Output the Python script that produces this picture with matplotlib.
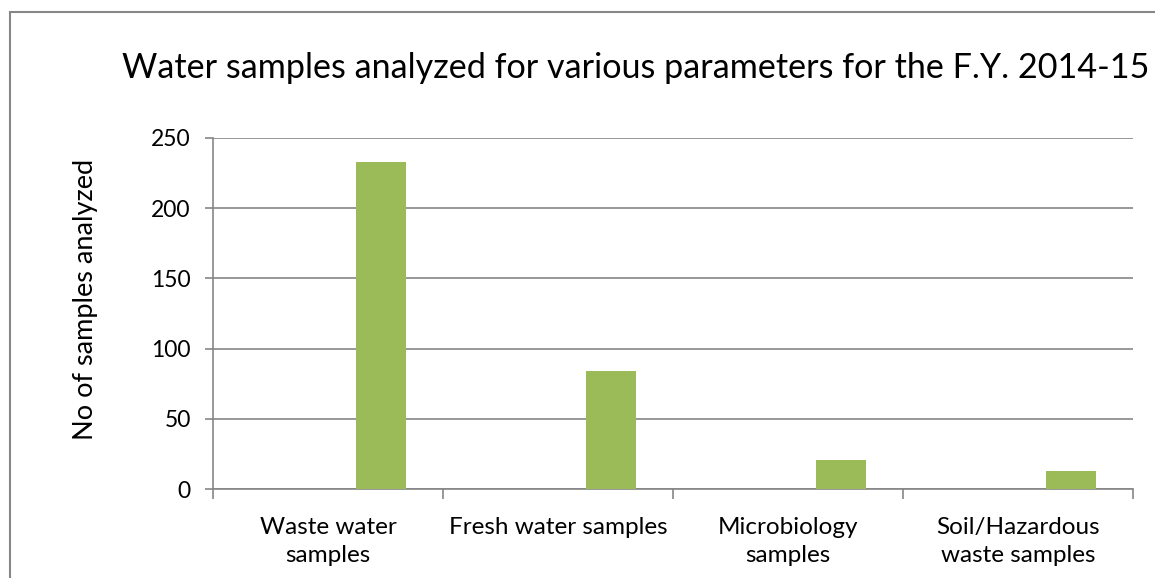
import numpy as np
import matplotlib.pyplot as plt
from matplotlib.patches import Rectangle

categories = ['Waste water\nsamples', 'Fresh water samples', 'Microbiology\nsamples',
              'Soil/Hazardous\nwaste samples']
samples = [233, 84, 21, 13]

plt.rcParams['font.family'] = ['Lato', 'DejaVu Sans']

fig = plt.figure(figsize=(11.55, 5.78), dpi=100)
ax = fig.add_axes([213/1155, 1-489/578, 920/1155, 351/578])

x = np.arange(len(categories))
ax.bar(x + 0.23, samples, width=0.217, color='#9BBB59', zorder=3)

ax.set_xlim(-0.5, 3.5)
ax.set_ylim(0, 250)
ax.set_yticks(range(0, 251, 50))
ax.yaxis.grid(True, color='#868686', lw=1.2, zorder=0)
for s in ['top', 'right']:
    ax.spines[s].set_visible(False)
for s in ['left', 'bottom']:
    ax.spines[s].set_color('#868686')
    ax.spines[s].set_linewidth(1.2)

# category labels between boundary ticks
ax.set_xticks(np.arange(-0.5, 4, 1))
ax.set_xticklabels([])
ax.set_xticks(x, minor=True)
ax.set_xticklabels(categories, minor=True, fontsize=17.5, linespacing=1.45)
ax.tick_params(axis='x', which='major', length=7, color='#868686', width=1.2)
ax.tick_params(axis='x', which='minor', length=0, pad=20)
ax.tick_params(axis='y', length=6, color='#868686', width=1.2, labelsize=16.5, pad=10)

ax.set_ylabel('No of samples analyzed', fontsize=19.5, va='center')
ax.yaxis.set_label_coords(-0.139, 0.541)
fig.text(122/1155, 1-68/578, 'Water samples analyzed for various parameters for the F.Y. 2014-15',
         fontsize=24.6, va='center', ha='left')

fig.patches.append(Rectangle((10/1155, -0.1), 1.2, 1.1 - 12/578 + 0.0,
                             transform=fig.transFigure, fill=False,
                             edgecolor='#878787', lw=1.5))

fig.savefig('out.png', dpi=100)
